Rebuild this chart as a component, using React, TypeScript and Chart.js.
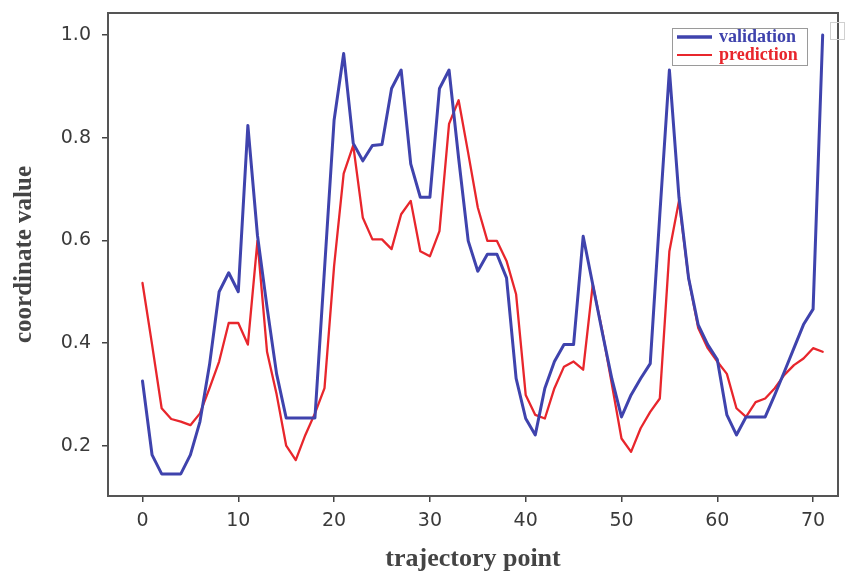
import React, { useEffect, useRef } from "react";
import { Chart, registerables } from "chart.js";

Chart.register(...registerables);

const xTickValues = [0, 10, 20, 30, 40, 50, 60, 70];
const yTickValues = [0.2, 0.4, 0.6, 0.8, 1.0];

const validation = [
  0.326, 0.182, 0.145, 0.145, 0.145, 0.182, 0.247, 0.358, 0.5, 0.537,
  0.5, 0.824, 0.61, 0.47, 0.34, 0.254, 0.254, 0.254, 0.254, 0.544,
  0.834, 0.964, 0.789, 0.755, 0.785, 0.787, 0.896, 0.932, 0.749, 0.684,
  0.684, 0.896, 0.932, 0.76, 0.599, 0.54, 0.573, 0.573, 0.527, 0.331,
  0.253, 0.221, 0.312, 0.364, 0.397, 0.397, 0.608, 0.514, 0.42, 0.33,
  0.256, 0.299, 0.331, 0.36, 0.65, 0.932, 0.684, 0.527, 0.436, 0.397,
  0.368, 0.26, 0.221, 0.256, 0.256, 0.256, 0.299, 0.344, 0.39, 0.436,
  0.466, 1.0,
];

const prediction = [
  0.517, 0.397, 0.273, 0.252, 0.247, 0.24, 0.263, 0.312, 0.364, 0.439,
  0.439, 0.397, 0.599, 0.383, 0.3, 0.2, 0.172, 0.221, 0.263, 0.312,
  0.55, 0.73, 0.785, 0.644, 0.602, 0.602, 0.583, 0.651, 0.677, 0.579,
  0.569, 0.618, 0.827, 0.873, 0.77, 0.664, 0.599, 0.599, 0.56, 0.495,
  0.299, 0.26, 0.253, 0.312, 0.354, 0.364, 0.348, 0.514, 0.423, 0.319,
  0.214, 0.188, 0.234, 0.266, 0.292, 0.579, 0.677, 0.527, 0.43, 0.39,
  0.364, 0.34, 0.273, 0.256, 0.285, 0.292, 0.312, 0.338, 0.357, 0.37,
  0.39, 0.383,
];

const seriesNames = ["validation", "prediction"];
const BLUE = "#3f43ad";
const RED = "#e8262c";

const framePlugin = {
  id: "frameAndLegend",
  afterDraw(chart: any) {
    const { ctx, chartArea } = chart;
    ctx.save();
    ctx.strokeStyle = "#555555";
    ctx.lineWidth = 2;
    ctx.strokeRect(
      chartArea.left,
      chartArea.top,
      chartArea.right - chartArea.left,
      chartArea.bottom - chartArea.top
    );
    const lx = 672;
    const ly = 28;
    const lw = 135;
    const lh = 37;
    ctx.fillStyle = "rgba(255,255,255,0.9)";
    ctx.fillRect(lx, ly, lw, lh);
    ctx.strokeStyle = "#9a9a9a";
    ctx.lineWidth = 1;
    ctx.strokeRect(lx + 0.5, ly + 0.5, lw, lh);
    const rows = [
      { name: seriesNames[0], color: BLUE, width: 3.5, y: ly + 9 },
      { name: seriesNames[1], color: RED, width: 1.8, y: ly + 27 },
    ];
    ctx.font = "bold 18px 'Liberation Serif', serif";
    ctx.textBaseline = "middle";
    ctx.textAlign = "left";
    for (const r of rows) {
      ctx.strokeStyle = r.color;
      ctx.lineWidth = r.width;
      ctx.beginPath();
      ctx.moveTo(lx + 5, r.y);
      ctx.lineTo(lx + 40, r.y);
      ctx.stroke();
      ctx.fillStyle = r.color;
      ctx.fillText(r.name, lx + 47, r.y);
    }
    ctx.strokeStyle = "#d0d0d0";
    ctx.lineWidth = 1;
    ctx.strokeRect(830.5, 22.5, 14, 17);
    ctx.restore();
  },
};

export default function App() {
  const canvasRef = useRef<HTMLCanvasElement | null>(null);

  useEffect(() => {
    if (!canvasRef.current) return;
    const chart = new Chart(canvasRef.current, {
      type: "line",
      data: {
        datasets: [
          {
            label: seriesNames[0],
            data: validation.map((v, i) => ({ x: i, y: v })),
            borderColor: BLUE,
            borderWidth: 3,
            borderJoinStyle: "round",
            borderCapStyle: "round",
            pointRadius: 0,
            tension: 0,
            fill: false,
          },
          {
            label: seriesNames[1],
            data: prediction.map((v, i) => ({ x: i, y: v })),
            borderColor: RED,
            borderWidth: 2.3,
            borderJoinStyle: "round",
            borderCapStyle: "round",
            pointRadius: 0,
            tension: 0,
            fill: false,
          },
        ],
      },
      options: {
        animation: false,
        responsive: true,
        maintainAspectRatio: false,
        layout: { padding: { top: 13, right: 7, left: 0, bottom: 0 } },
        plugins: {
          legend: { display: false },
          tooltip: { enabled: false },
        },
        scales: {
          x: {
            type: "linear",
            min: -3.6,
            max: 72.6,
            afterBuildTicks: (scale: any) => {
              scale.ticks = xTickValues.map((v) => ({ value: v }));
            },
            afterFit: (scale: any) => {
              scale.height = 79;
              scale.paddingLeft = 0;
              scale.paddingRight = 0;
            },
            grid: {
              display: true,
              drawOnChartArea: false,
              drawTicks: true,
              tickLength: 6,
              color: "#444",
              lineWidth: 1.5,
            },
            border: { display: false },
            ticks: {
              color: "#3a3a3a",
              font: { family: "'DejaVu Sans', sans-serif", size: 19 },
              padding: 8,
              maxRotation: 0,
              callback: (v: any) => String(v),
            },
            title: {
              display: true,
              text: "trajectory point",
              color: "#444",
              font: { family: "'Liberation Serif', serif", size: 26, weight: "bold" },
              padding: { top: 0, bottom: 0 },
            },
          },
          y: {
            type: "linear",
            min: 0.102,
            max: 1.043,
            afterBuildTicks: (scale: any) => {
              scale.ticks = yTickValues.map((v) => ({ value: v }));
            },
            afterFit: (scale: any) => {
              scale.width = 108;
              scale.paddingTop = 0;
              scale.paddingBottom = 0;
            },
            grid: {
              display: true,
              drawOnChartArea: false,
              drawTicks: true,
              tickLength: 6,
              color: "#444",
              lineWidth: 1.5,
            },
            border: { display: false },
            ticks: {
              color: "#3a3a3a",
              font: { family: "'DejaVu Sans', sans-serif", size: 19 },
              padding: 11,
              callback: (v: any) => Number(v).toFixed(1),
            },
            title: {
              display: true,
              text: "coordinate value",
              color: "#444",
              font: { family: "'Liberation Serif', serif", size: 25, weight: "bold" },
              padding: { top: 10, bottom: 0 },
            },
          },
        },
      },
      plugins: [framePlugin],
    });
    return () => chart.destroy();
  }, []);

  return (
    <div
      style={{
        position: "fixed",
        left: 0,
        top: 0,
        width: 845,
        height: 575,
        background: "#ffffff",
      }}
    >
      <canvas ref={canvasRef} />
    </div>
  );
}
